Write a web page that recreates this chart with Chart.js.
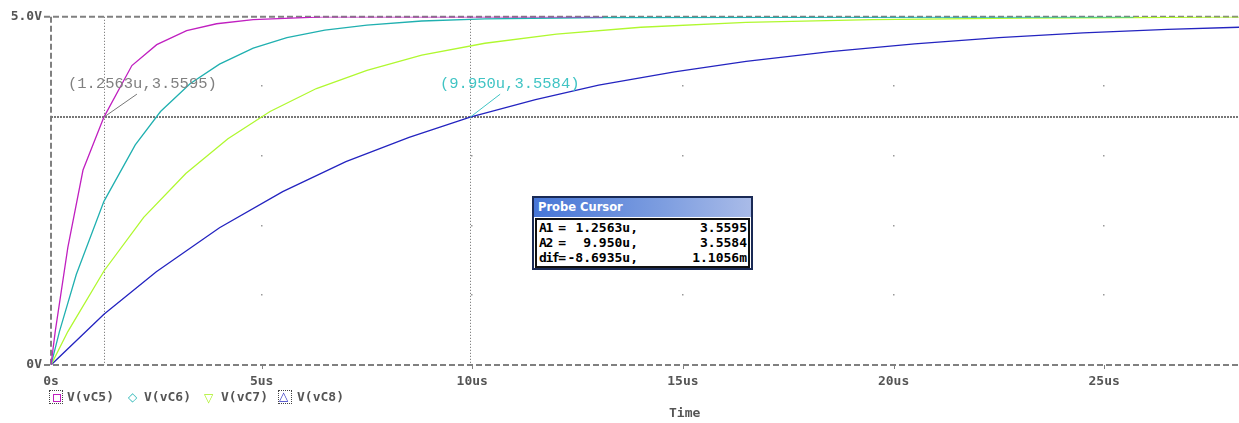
<!DOCTYPE html>
<html>
<head>
<meta charset="utf-8">
<script src="https://cdn.jsdelivr.net/npm/chart.js@4"></script>
<style>
  body { margin: 0; background: #fff; }
  #wrap { position: relative; width: 1239px; height: 423px; overflow: hidden; }
  .mono { font-family: "DejaVu Sans Mono", monospace; font-weight: bold; font-size: 13px; color: #555; position: absolute; line-height: 14px; }
  .lgbox { position: absolute; border: 1px dotted #444; width: 12px; height: 12px; }
  .sym { position: absolute; font-family: "DejaVu Sans", sans-serif; font-size: 12px; line-height: 14px; }
  #probe { position: absolute; left: 532px; top: 196px; width: 217px; height: 70px; border: 2px solid #1a2a55; background: #fff; }
  #probe .title { height: 19px; background: linear-gradient(to right, #4776d6, #7e9ee0 60%, #a9bbe8); color: #fff; font-family: "DejaVu Sans", sans-serif; font-size: 11.5px; font-weight: bold; line-height: 19px; padding-left: 4px; }
  #probe .body { position: absolute; left: 1px; top: 20px; width: 211px; height: 46px; border: 2px solid #111; }
  #probe .row { position: absolute; left: 0px; width: 211px; height: 15px; font-family: "DejaVu Sans Mono", monospace; font-weight: bold; font-size: 13px; color: #000; line-height: 15px; }
  #probe .row span { position: absolute; }
  #probe .row .lab { left: 2px; letter-spacing: -1.4px; }
</style>
</head>
<body>
<div id="wrap">
  <canvas id="myChart" width="1239" height="423"></canvas>

  <!-- legende -->
  <div class="lgbox" style="left:49px; top:390px;"></div>
  <div style="position:absolute; left:53px; top:394px; width:6px; height:6px; border:1.5px solid #c020c0;"></div>
  <div class="mono" style="left:67px; top:390px;">V(vC5)</div>
  <div class="sym" style="left:128px; top:390px; color:#30b8b8;">◇</div>
  <div class="mono" style="left:144px; top:390px;">V(vC6)</div>
  <div class="sym" style="left:204px; top:391px; color:#a8f020;">▽</div>
  <div class="mono" style="left:221px; top:390px;">V(vC7)</div>
  <div class="lgbox" style="left:278px; top:390px;"></div>
  <div class="sym" style="left:279px; top:389px; color:#2a2ac0;">△</div>
  <div class="mono" style="left:297px; top:390px;">V(vC8)</div>

  <div class="mono" style="left:669px; top:406px;">Time</div>

  <!-- fenetre Probe Cursor -->
  <div id="probe">
    <div class="title">Probe Cursor</div>
    <div class="body">
      <div class="row" style="top:0px;"><span class="lab">A1 =</span><span style="right:110px;">1.2563u,</span><span style="right:1px;">3.5595</span></div>
      <div class="row" style="top:15px;"><span class="lab">A2 =</span><span style="right:110px;">9.950u,</span><span style="right:1px;">3.5584</span></div>
      <div class="row" style="top:30px;"><span class="lab">dif=</span><span style="right:110px;">-8.6935u,</span><span style="right:1px;">1.1056m</span></div>
    </div>
  </div>
</div>

<script>
// Donnees (temps en us, tension en V)
var t5 = [0, 0.1, 0.4, 0.76, 1.2563, 1.92, 2.51, 3.22, 3.93, 4.8, 6.45, 13.1];
var v5 = [0, 0.48, 1.69, 2.8, 3.56, 4.3, 4.6, 4.8, 4.9, 4.96, 5.0, 5.0];

var t6 = [0, 0.2, 0.6, 1.2563, 2.0, 2.6, 3.3, 4.0, 4.8, 5.6, 6.5, 7.5, 8.8, 10.3, 13.1, 25.7];
var v6 = [0, 0.48, 1.3, 2.35, 3.16, 3.64, 4.04, 4.32, 4.55, 4.7, 4.81, 4.88, 4.94, 4.97, 4.99, 5.0];

var t7 = [0, 0.4, 1.2563, 2.2, 3.2, 4.2, 5.2, 6.3, 7.5, 8.8, 10.3, 12, 14, 16.5, 19.5, 23, 25.7, 28.2];
var v7 = [0, 0.48, 1.35, 2.12, 2.75, 3.25, 3.64, 3.97, 4.23, 4.45, 4.62, 4.75, 4.85, 4.92, 4.96, 4.98, 4.99, 5.0];

var t8 = [0, 1.2563, 2.5, 4, 5.5, 7, 8.5, 9.95, 11.5, 13, 14.8, 16.5, 18.5, 20.5, 22.5, 24.5, 26.5, 28.2];
var v8 = [0, 0.73, 1.34, 1.97, 2.49, 2.92, 3.27, 3.56, 3.81, 4.02, 4.21, 4.36, 4.5, 4.61, 4.7, 4.77, 4.82, 4.85];

var seriesNames = ['V(vC5)', 'V(vC6)', 'V(vC7)', 'V(vC8)'];
var xTicks = [0, 5, 10, 15, 20, 25];
var yTicks = [0, 1, 2, 3, 4, 5];
var cursorA1 = [1.2563, 3.5595];
var cursorA2 = [9.950, 3.5584];
var labelA1 = '(1.2563u,3.5595)';
var labelA2 = '(9.950u,3.5584)';

function toPoints(t, v) {
    return t.map(function(x, i) { return { x: x, y: v[i] }; });
}

// Cadre pointille, points de grille, curseurs et etiquettes
var probePlugin = {
    id: 'probePlugin',
    beforeDatasetsDraw: function(chart) {
        var ctx = chart.ctx, a = chart.chartArea;
        var sx = chart.scales.x, sy = chart.scales.y;
        ctx.save();
        // points de grille
        ctx.fillStyle = '#999';
        xTicks.forEach(function(tx) {
            if (tx === 0) return;
            yTicks.forEach(function(ty) {
                if (ty === 0 || ty === 5) return;
                ctx.fillRect(Math.round(sx.getPixelForValue(tx)) - 1, Math.round(sy.getPixelForValue(ty)) - 1, 1.5, 1.5);
            });
        });
        // cadre
        ctx.strokeStyle = '#808080';
        ctx.lineWidth = 2;
        ctx.setLineDash([6, 3]);
        ctx.beginPath();
        ctx.moveTo(44, a.top); ctx.lineTo(a.right, a.top);
        ctx.moveTo(44, a.bottom); ctx.lineTo(a.right, a.bottom);
        ctx.moveTo(a.left, a.top); ctx.lineTo(a.left, a.bottom);
        ctx.stroke();
        ctx.setLineDash([]);
        ctx.lineWidth = 1;
        ctx.beginPath();
        xTicks.forEach(function(tx) {
            if (tx === 0) return;
            var px = Math.round(sx.getPixelForValue(tx)) + 0.5;
            ctx.moveTo(px, a.bottom); ctx.lineTo(px, a.bottom + 4);
        });
        ctx.stroke();
        // curseurs
        var x1 = Math.round(sx.getPixelForValue(cursorA1[0])) + 0.5;
        var x2 = Math.round(sx.getPixelForValue(cursorA2[0])) + 0.5;
        var y1 = Math.round(sy.getPixelForValue(cursorA1[1]));
        ctx.strokeStyle = '#666';
        ctx.setLineDash([1, 2]);
        ctx.beginPath();
        ctx.moveTo(x1, a.top); ctx.lineTo(x1, a.bottom);
        ctx.moveTo(x2, a.top); ctx.lineTo(x2, a.bottom);
        ctx.stroke();
        ctx.lineWidth = 2;
        ctx.strokeStyle = '#777';
        ctx.setLineDash([2, 1]);
        ctx.beginPath();
        ctx.moveTo(a.left, y1); ctx.lineTo(a.right, y1);
        ctx.stroke();
        ctx.restore();
    },
    afterDatasetsDraw: function(chart) {
        var ctx = chart.ctx;
        var sx = chart.scales.x, sy = chart.scales.y;
        ctx.save();
        var p1x = sx.getPixelForValue(cursorA1[0]), p1y = sy.getPixelForValue(cursorA1[1]);
        var p2x = sx.getPixelForValue(cursorA2[0]), p2y = sy.getPixelForValue(cursorA2[1]);
        ctx.lineWidth = 1;
        ctx.strokeStyle = '#777';
        ctx.beginPath(); ctx.moveTo(p1x, p1y); ctx.lineTo(p1x + 33, p1y - 23); ctx.stroke();
        ctx.strokeStyle = '#40c4c4';
        ctx.beginPath(); ctx.moveTo(p2x, p2y); ctx.lineTo(p2x + 30, p2y - 23); ctx.stroke();
        ctx.font = '15.5px "Liberation Mono", monospace';
        ctx.textBaseline = 'middle';
        ctx.fillStyle = '#808080';
        ctx.fillText(labelA1, 68, 84);
        ctx.fillStyle = '#40c4c4';
        ctx.fillText(labelA2, 440, 84);
        ctx.restore();
    }
};

var tickFont = { family: '"DejaVu Sans Mono", monospace', size: 13, weight: 'bold' };

var ctx = document.getElementById('myChart').getContext('2d');
var myChart = new Chart(ctx, {
    type: 'line',
    data: {
        datasets: [
            { label: seriesNames[0], data: toPoints(t5, v5), borderColor: '#c020c0' },
            { label: seriesNames[1], data: toPoints(t6, v6), borderColor: '#20b0b0' },
            { label: seriesNames[2], data: toPoints(t7, v7), borderColor: '#b0f830' },
            { label: seriesNames[3], data: toPoints(t8, v8), borderColor: '#2424c0' }
        ]
    },
    options: {
        responsive: false,
        animation: false,
        devicePixelRatio: 1,
        layout: { padding: { top: 15, right: 0, left: 0, bottom: 0 } },
        elements: {
            line: { borderWidth: 1.3, tension: 0, fill: false },
            point: { radius: 0 }
        },
        plugins: {
            legend: { display: false },
            tooltip: { enabled: false }
        },
        scales: {
            x: {
                type: 'linear',
                min: 0,
                max: 28.2,
                grid: { display: false, drawTicks: false },
                border: { display: false },
                afterBuildTicks: function(scale) {
                    scale.ticks = xTicks.map(function(v) { return { value: v }; });
                },
                afterFit: function(scale) { scale.height = 58; },
                ticks: {
                    padding: 9,
                    maxRotation: 0,
                    autoSkip: false,
                    color: '#555',
                    font: tickFont,
                    callback: function(v) { return v === 0 ? '0s' : v + 'us'; }
                }
            },
            y: {
                min: 0,
                max: 5,
                grid: { display: false, drawTicks: false },
                border: { display: false },
                afterBuildTicks: function(scale) {
                    scale.ticks = yTicks.map(function(v) { return { value: v }; });
                },
                afterFit: function(scale) { scale.width = 51; },
                ticks: {
                    padding: 9,
                    color: '#555',
                    font: tickFont,
                    callback: function(v) { return v === 5 ? '5.0V' : (v === 0 ? '0V' : ''); }
                }
            }
        }
    },
    plugins: [probePlugin]
});
</script>
</body>
</html>
